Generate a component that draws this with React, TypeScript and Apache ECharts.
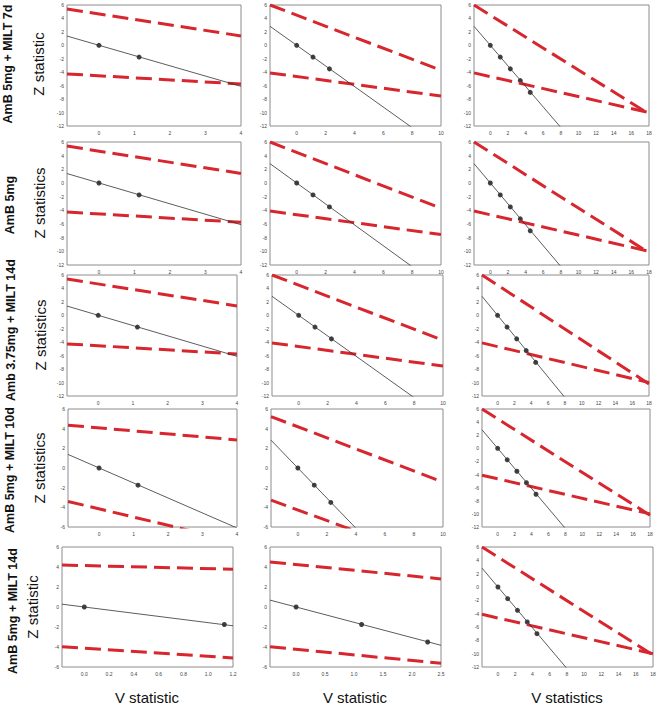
import React, { useEffect, useRef } from "react";
import * as echarts from "echarts";

// ---------- texts ----------
const rowLabels = [
  "AmB 5mg + MILT 7d",
  "AmB 5mg",
  "Amb 3.75mg + MILT 14d",
  "AmB 5mg + MILT 10d",
  "AmB 5mg + MILT 14d",
];
const zLabels = ["Z statistic", "Z statistics", "Z statistics", "Z statistics", "Z statistic"];
const vLabels = ["V statistic", "V statistic", "V statistics"];

// ---------- tick labels ----------
const yTicksTall = [-12, -10, -8, -6, -4, -2, 0, 2, 4, 6];
const yTicksShort = [-6, -4, -2, 0, 2, 4, 6];
const xTicks4 = [0, 1, 2, 3, 4];
const xTicks10 = [0, 2, 4, 6, 8, 10];
const xTicks18 = [0, 2, 4, 6, 8, 10, 12, 14, 16, 18];
const xTicks12 = [0, 0.2, 0.4, 0.6, 0.8, 1.0, 1.2];
const xTicks25 = [0, 0.5, 1.0, 1.5, 2.0, 2.5];

// ---------- observed points ----------
const points2 = [[0, 0], [1.13, -1.75]];
const points3 = [[0, 0], [1.13, -1.75], [2.27, -3.5]];
const points5 = [[0, 0], [1.13, -1.75], [2.27, -3.5], [3.4, -5.25], [4.53, -7.0]];

// ---------- boundary & fit lines (end points) ----------
const upperA = [[-0.9, 5.4], [4, 1.4]];
const lowerA = [[-0.9, -4.25], [4, -5.75]];
const fitA = [[-0.9, 1.38], [4, -6.1]];

const upperB = [[-1.85, 6.0], [10, -3.7]];
const lowerB = [[-1.85, -4.1], [10, -7.55]];
const fitB = [[-1.85, 2.83], [10, -15.3]];

const upperC = [[-1.85, 6.0], [18, -10.2]];
const lowerC = [[-1.85, -4.1], [18, -10.0]];
const fitC = [[-1.85, 2.83], [18, -27.5]];

const upper4A = [[-0.9, 4.35], [4, 2.85]];
const lower4A = [[-0.9, -3.4], [4, -7.5]];
const upper4B = [[-1.85, 5.23], [10, -1.43]];
const lower4B = [[-1.85, -3.27], [10, -9.67]];

const upper5A = [[-0.18, 4.2], [1.2, 3.78]];
const lower5A = [[-0.18, -3.97], [1.2, -5.1]];
const fit5A = [[-0.18, 0.28], [1.2, -1.88]];
const upper5B = [[-0.45, 4.5], [2.5, 2.81]];
const lower5B = [[-0.45, -3.97], [2.5, -5.63]];
const fit5B = [[-0.45, 0.69], [2.5, -3.83]];

type Panel = {
  row: number; col: number;
  xMin: number; xMax: number; yMin: number; yMax: number;
  xTicks: number[]; yTicks: number[]; dec: number;
  upper: number[][]; lower: number[][]; fit: number[][]; points: number[][];
};

const panels: Panel[] = [
  { row: 0, col: 0, xMin: -0.9, xMax: 4, yMin: -12, yMax: 6, xTicks: xTicks4, yTicks: yTicksTall, dec: 0, upper: upperA, lower: lowerA, fit: fitA, points: points2 },
  { row: 0, col: 1, xMin: -1.85, xMax: 10, yMin: -12, yMax: 6, xTicks: xTicks10, yTicks: yTicksTall, dec: 0, upper: upperB, lower: lowerB, fit: fitB, points: points3 },
  { row: 0, col: 2, xMin: -1.85, xMax: 18, yMin: -12, yMax: 6, xTicks: xTicks18, yTicks: yTicksTall, dec: 0, upper: upperC, lower: lowerC, fit: fitC, points: points5 },
  { row: 1, col: 0, xMin: -0.9, xMax: 4, yMin: -12, yMax: 6, xTicks: xTicks4, yTicks: yTicksTall, dec: 0, upper: upperA, lower: lowerA, fit: fitA, points: points2 },
  { row: 1, col: 1, xMin: -1.85, xMax: 10, yMin: -12, yMax: 6, xTicks: xTicks10, yTicks: yTicksTall, dec: 0, upper: upperB, lower: lowerB, fit: fitB, points: points3 },
  { row: 1, col: 2, xMin: -1.85, xMax: 18, yMin: -12, yMax: 6, xTicks: xTicks18, yTicks: yTicksTall, dec: 0, upper: upperC, lower: lowerC, fit: fitC, points: points5 },
  { row: 2, col: 0, xMin: -0.9, xMax: 4, yMin: -12, yMax: 6, xTicks: xTicks4, yTicks: yTicksTall, dec: 0, upper: upperA, lower: lowerA, fit: fitA, points: points2 },
  { row: 2, col: 1, xMin: -1.85, xMax: 10, yMin: -12, yMax: 6, xTicks: xTicks10, yTicks: yTicksTall, dec: 0, upper: upperB, lower: lowerB, fit: fitB, points: points3 },
  { row: 2, col: 2, xMin: -1.85, xMax: 18, yMin: -12, yMax: 6, xTicks: xTicks18, yTicks: yTicksTall, dec: 0, upper: upperC, lower: lowerC, fit: fitC, points: points5 },
  { row: 3, col: 0, xMin: -0.9, xMax: 4, yMin: -6, yMax: 6, xTicks: xTicks4, yTicks: yTicksShort, dec: 0, upper: upper4A, lower: lower4A, fit: fitA, points: points2 },
  { row: 3, col: 1, xMin: -1.85, xMax: 10, yMin: -6, yMax: 6, xTicks: xTicks10, yTicks: yTicksShort, dec: 0, upper: upper4B, lower: lower4B, fit: fitB, points: points3 },
  { row: 3, col: 2, xMin: -1.85, xMax: 18, yMin: -12, yMax: 6, xTicks: xTicks18, yTicks: yTicksTall, dec: 0, upper: upperC, lower: lowerC, fit: fitC, points: points5 },
  { row: 4, col: 0, xMin: -0.18, xMax: 1.2, yMin: -6, yMax: 6, xTicks: xTicks12, yTicks: yTicksShort, dec: 1, upper: upper5A, lower: lower5A, fit: fit5A, points: points2 },
  { row: 4, col: 1, xMin: -0.45, xMax: 2.5, yMin: -6, yMax: 6, xTicks: xTicks25, yTicks: yTicksShort, dec: 1, upper: upper5B, lower: lower5B, fit: fit5B, points: points3 },
  { row: 4, col: 2, xMin: -1.85, xMax: 18, yMin: -12, yMax: 6, xTicks: xTicks18, yTicks: yTicksTall, dec: 0, upper: upperC, lower: lowerC, fit: fitC, points: points5 },
];

// ---------- layout (pixels) ----------
const rowTop = [5, 142, 275, 409, 547];
const rowBottom = [126, 265, 396, 527, 667];
const colLeft = [
  [67, 270, 474],
  [67, 270, 474],
  [67, 272, 482],
  [68, 271, 482],
  [62, 270, 482],
];
const colRight = [
  [241, 441, 649],
  [241, 441, 649],
  [237, 443, 649],
  [237, 443, 650],
  [233, 441, 653],
];
const rowLabelPos = [[8, 64], [10, 205], [11, 330], [10, 470], [12.5, 611]];
const zLabelPos = [[38, 64], [39, 203], [40, 335], [39, 468], [32, 607]];
const vLabelPos = [[147, 697], [355, 697], [567, 697]];

const FONT = "'Liberation Sans', Arial, sans-serif";
const RED = "#d7262e";

export default function App() {
  const ref = useRef<HTMLDivElement>(null);
  useEffect(() => {
    document.body.style.margin = "0";
    if (!ref.current) return;
    const chart = echarts.init(ref.current, undefined, { renderer: "svg" });
    const grid: any[] = [];
    const xAxis: any[] = [];
    const yAxis: any[] = [];
    const series: any[] = [];
    panels.forEach((p, i) => {
      const l = colLeft[p.row][p.col];
      const r = colRight[p.row][p.col];
      grid.push({
        left: l, top: rowTop[p.row], width: r - l, height: rowBottom[p.row] - rowTop[p.row],
        show: true, borderColor: "#8c8c8c", borderWidth: 1, backgroundColor: "transparent",
      });
      xAxis.push({
        type: "value", gridIndex: i, min: p.xMin, max: p.xMax,
        axisLine: { show: false }, splitLine: { show: false },
        axisTick: { show: false },
        axisLabel: {
          customValues: p.xTicks, fontSize: 5, color: "#444", margin: 4, fontFamily: FONT,
          formatter: (v: number) => v.toFixed(p.dec),
        },
      });
      yAxis.push({
        type: "value", gridIndex: i, min: p.yMin, max: p.yMax, interval: 2,
        axisLine: { show: false }, splitLine: { show: false },
        axisTick: { show: false },
        axisLabel: { fontSize: 5, color: "#444", margin: 3, fontFamily: FONT, customValues: p.yTicks },
      });
      const common = { xAxisIndex: i, yAxisIndex: i, symbol: "none", clip: true, silent: true };
      series.push({ ...common, type: "line", data: p.upper, lineStyle: { color: RED, width: 3, type: [16, 7] } });
      series.push({ ...common, type: "line", data: p.lower, lineStyle: { color: RED, width: 3, type: [16, 7] } });
      series.push({ ...common, type: "line", data: p.fit, lineStyle: { color: "#333", width: 0.8 } });
      series.push({
        type: "scatter", xAxisIndex: i, yAxisIndex: i, data: p.points, symbol: "circle",
        symbolSize: 5, itemStyle: { color: "#111" }, silent: true,
      });
    });
    const graphic: any[] = [];
    rowLabels.forEach((t, k) => {
      graphic.push({
        type: "text", x: rowLabelPos[k][0], y: rowLabelPos[k][1], rotation: Math.PI / 2,
        style: { text: t, font: `bold 12.5px ${FONT}`, fill: "#111", textAlign: "center", textVerticalAlign: "middle" },
      });
    });
    zLabels.forEach((t, k) => {
      graphic.push({
        type: "text", x: zLabelPos[k][0], y: zLabelPos[k][1], rotation: Math.PI / 2,
        style: { text: t, font: `15px ${FONT}`, fill: "#111", textAlign: "center", textVerticalAlign: "middle" },
      });
    });
    vLabels.forEach((t, k) => {
      graphic.push({
        type: "text", x: vLabelPos[k][0], y: vLabelPos[k][1],
        style: { text: t, font: `15px ${FONT}`, fill: "#111", textAlign: "center", textVerticalAlign: "middle" },
      });
    });
    chart.setOption({ animation: false, grid, xAxis, yAxis, series, graphic });
    return () => chart.dispose();
  }, []);
  return <div ref={ref} style={{ position: "absolute", left: 0, top: 0, width: 659, height: 706, background: "#fff" }} />;
}
